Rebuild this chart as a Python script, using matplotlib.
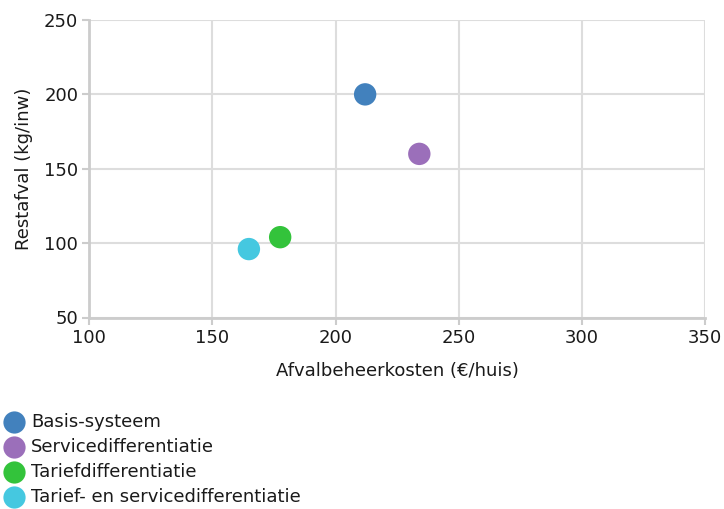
import matplotlib
matplotlib.use("Agg")
import matplotlib.pyplot as plt
from matplotlib.lines import Line2D

plt.rcParams['font.family'] = ['DejaVu Sans']

# Waste-management scenarios: cost per household vs residual waste per inhabitant
series = ["Basis-systeem", "Servicedifferentiatie", "Tariefdifferentiatie",
          "Tarief- en servicedifferentiatie"]
kosten = [212, 234, 177.5, 164.8]
restafval = [200, 160, 104, 96]
colors = ["#4281bd", "#9b6fba", "#33c33b", "#45c8e0"]

x_ticks = [100, 150, 200, 250, 300, 350]
y_ticks = [50, 100, 150, 200, 250]

W, H = 724, 509
FS = 13
TXT = "#1a1a1a"
fig = plt.figure(figsize=(W / 100, H / 100), dpi=100)
ax = fig.add_axes([89.3 / W, 1 - 317.5 / H, (705 - 89.3) / W, (317.5 - 20) / H])

for name, xv, yv, c in zip(series, kosten, restafval, colors):
    ax.scatter([xv], [yv], s=260, color=c, edgecolors="none", zorder=3, label=name)

ax.set_xlim(x_ticks[0], x_ticks[-1])
ax.set_ylim(y_ticks[0], y_ticks[-1])
ax.set_xticks(x_ticks)
ax.set_yticks(y_ticks)
ax.grid(True, color="#dddddd", linewidth=1.5, zorder=0)
ax.set_axisbelow(True)
for side in ("top", "right"):
    ax.spines[side].set_visible(False)
for side in ("left", "bottom"):
    ax.spines[side].set_color("#cccccc")
    ax.spines[side].set_linewidth(2)
ax.tick_params(axis="both", colors="#cccccc", length=5, width=1.5,
               labelcolor=TXT, labelsize=FS, pad=3)

ax.set_xlabel("Afvalbeheerkosten (€/huis)", fontsize=FS, color=TXT, labelpad=11)
ax.set_ylabel("Restafval (kg/inw)", fontsize=FS, color=TXT, labelpad=8)

# Legend drawn below the plot: one dot and one label per series
for i, (name, c) in enumerate(zip(series, colors)):
    yc = 1 - (422 + 25 * i) / H
    fig.add_artist(Line2D([14 / W], [yc], transform=fig.transFigure, marker="o",
                          linestyle="none", markersize=16,
                          markerfacecolor=c, markeredgecolor="none"))
    fig.text(31 / W, yc, name, fontsize=FS, color=TXT, va="center", ha="left")

fig.savefig("out.png", dpi=100)
